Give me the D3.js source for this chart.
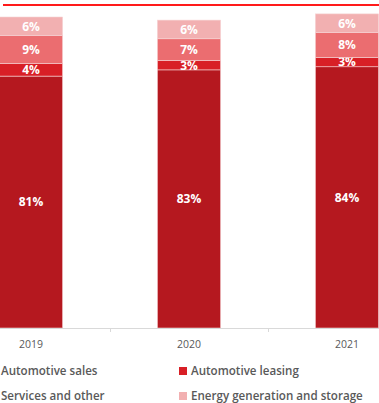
<!DOCTYPE html>
<html>
<head>
<meta charset="utf-8">
<script src="https://cdn.jsdelivr.net/npm/d3@7"></script>
<style>
  body { margin: 0; background: #fff; }
  svg { display: block; }
</style>
</head>
<body>
<div id="vis"></div>
<script>
// frame
const FRAME_WIDTH = 379;
const FRAME_HEIGHT = 403;
const PLOT = {top: 17, bottom: 328, left: -48, right: 426};

// data
const YEARS = ["2019", "2020", "2021"];
const SERIES = ["Automotive sales", "Automotive leasing", "Services and other", "Energy generation and storage"];
const AUTO_SALES = [81, 83, 84];
const AUTO_LEASING = [4, 3, 3];
const SERVICES = [9, 7, 8];
const ENERGY = [6, 6, 6];
const COLORS = ["#b5181f", "#d81f26", "#eb6d70", "#f2b0b1"];

const rows = YEARS.map((y, i) => ({
  year: y,
  "Automotive sales": AUTO_SALES[i],
  "Automotive leasing": AUTO_LEASING[i],
  "Services and other": SERVICES[i],
  "Energy generation and storage": ENERGY[i]
}));

const FRAME = d3.select("#vis")
  .append("svg")
    .attr("width", FRAME_WIDTH)
    .attr("height", FRAME_HEIGHT);

const X = d3.scaleBand()
  .domain(YEARS)
  .range([PLOT.left, PLOT.right])
  .paddingInner(0.6)
  .paddingOuter(0.3);

const Y = d3.scaleLinear()
  .domain([0, 100])
  .range([PLOT.bottom, PLOT.top]);

const COLOR = d3.scaleOrdinal().domain(SERIES).range(COLORS);

// top red rule
FRAME.append("line")
  .attr("x1", 3).attr("x2", FRAME_WIDTH)
  .attr("y1", 5).attr("y2", 5)
  .attr("stroke", "#ff1a1a")
  .attr("stroke-width", 2.2);

const stacked = d3.stack().keys(SERIES)(rows);

const layers = FRAME.selectAll(".layer")
  .data(stacked)
  .enter()
  .append("g")
    .attr("class", "layer")
    .attr("fill", (d) => COLOR(d.key));

layers.selectAll("rect")
  .data((d) => d)
  .enter()
  .append("rect")
    .attr("x", (d) => X(d.data.year))
    .attr("y", (d) => Y(d[1]))
    .attr("width", X.bandwidth())
    .attr("height", (d) => Y(d[0]) - Y(d[1]))
    .attr("stroke", "#f6d3d4")
    .attr("stroke-width", 0.6);

// value labels
layers.selectAll("text")
  .data((d) => d)
  .enter()
  .append("text")
    .attr("x", (d) => X(d.data.year) + X.bandwidth() / 2)
    .attr("y", (d) => (Y(d[0]) + Y(d[1])) / 2)
    .attr("dy", "0.36em")
    .attr("text-anchor", "middle")
    .attr("font-family", "'Open Sans', sans-serif")
    .attr("font-weight", "bold")
    .attr("font-size", "12px")
    .attr("fill", "#fff")
    .text((d) => (d[1] - d[0]) + "%");

// x axis
const axis = FRAME.append("g");
axis.append("line")
  .attr("x1", 0).attr("x2", FRAME_WIDTH)
  .attr("y1", PLOT.bottom + 0.5).attr("y2", PLOT.bottom + 0.5)
  .attr("stroke", "#d9d9d9");

const gap = X.step() * X.paddingInner();
axis.selectAll(".tick")
  .data(YEARS.slice(0, -1))
  .enter()
  .append("line")
    .attr("x1", (d) => Math.round(X(d) + X.bandwidth() + gap / 2) + 0.5)
    .attr("x2", (d) => Math.round(X(d) + X.bandwidth() + gap / 2) + 0.5)
    .attr("y1", PLOT.bottom)
    .attr("y2", PLOT.bottom + 4)
    .attr("stroke", "#d9d9d9");

axis.selectAll(".lbl")
  .data(YEARS)
  .enter()
  .append("text")
    .attr("x", (d) => X(d) + X.bandwidth() / 2)
    .attr("y", 348)
    .attr("text-anchor", "middle")
    .attr("font-family", "'Open Sans', sans-serif")
    .attr("font-size", "10.5px")
    .attr("fill", "#595959")
    .text((d) => d);

// legend
const LEG_X = [-11, 179];
const LEG_Y = [371, 396];
const legend = FRAME.selectAll(".legend")
  .data(SERIES)
  .enter()
  .append("g")
    .attr("transform", (d, i) => "translate(" + LEG_X[i % 2] + "," + LEG_Y[Math.floor(i / 2)] + ")");

legend.append("rect")
  .attr("x", 0).attr("y", -4)
  .attr("width", 8).attr("height", 8)
  .attr("fill", (d) => COLOR(d));

legend.append("text")
  .attr("x", 12)
  .attr("dy", "0.36em")
  .attr("font-family", "'Open Sans', sans-serif")
  .attr("font-weight", "600")
  .attr("font-size", "11.6px")
  .attr("fill", "#595959")
  .text((d) => d);
</script>
</body>
</html>
